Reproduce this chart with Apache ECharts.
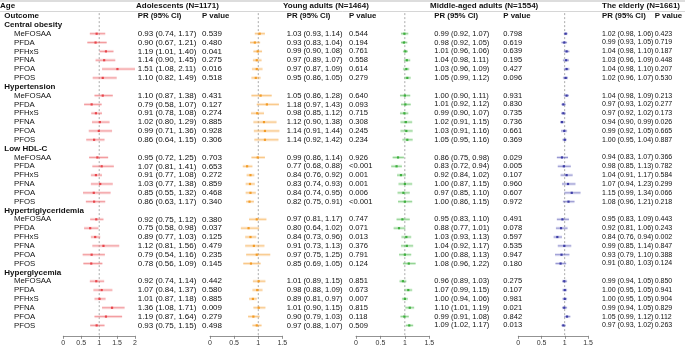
<!DOCTYPE html>
<html>
<head>
<meta charset="utf-8">
<script src="https://cdn.jsdelivr.net/npm/echarts@6/dist/echarts.min.js"></script>
<style>
  html, body { margin: 0; padding: 0; background: #fff; }
  #chart { width: 685px; height: 350px; }
</style>
</head>
<body>
<div id="chart"></div>
<script>
// categories
const outcomes = ['Central obesity', 'Hypertension', 'Low HDL-C', 'Hypertriglyceridemia', 'Hyperglycemia'];
const pfas = ['MeFOSAA', 'PFDA', 'PFHxS', 'PFNA', 'PFOA', 'PFOS'];
const panelNames = ['Adolescents (N=1171)', 'Young adults (N=1464)', 'Middle-aged adults (N=1554)', 'The elderly (N=1661)'];
const xMax = [2, 1.5, 1.5, 1.5];
const xTicks = 0.5;

// values: 5 outcomes x 6 PFAS, outcome by outcome
const adoPR = [0.93,0.90,1.19,1.14,1.51,1.10, 1.10,0.79,0.91,1.02,0.99,0.86, 0.95,1.07,0.91,1.03,0.85,0.86, 0.92,0.75,0.89,1.12,0.79,0.78, 0.92,1.07,1.01,1.36,1.19,0.93];
const adoLo = [0.74,0.67,1.01,0.90,1.08,0.82, 0.87,0.58,0.78,0.80,0.71,0.64, 0.72,0.81,0.77,0.77,0.55,0.63, 0.75,0.58,0.77,0.81,0.54,0.56, 0.74,0.84,0.87,1.08,0.87,0.75];
const adoHi = [1.17,1.21,1.40,1.45,2.11,1.49, 1.38,1.07,1.08,1.29,1.36,1.15, 1.25,1.41,1.08,1.38,1.32,1.17, 1.12,0.98,1.03,1.56,1.16,1.09, 1.14,1.37,1.18,1.71,1.64,1.15];
const adoP = ['0.539','0.480','0.041','0.275','0.016','0.518', '0.431','0.127','0.274','0.885','0.928','0.306', '0.703','0.653','0.272','0.859','0.468','0.340', '0.380','0.037','0.125','0.479','0.235','0.145', '0.442','0.580','0.885','0.009','0.279','0.498'];

const youPR = [1.03,0.93,0.99,0.97,0.97,0.95, 1.05,1.18,0.98,1.12,1.14,1.14, 0.99,0.77,0.84,0.83,0.84,0.82, 0.97,0.80,0.84,0.91,0.97,0.85, 1.01,0.98,0.89,1.01,0.90,0.97];
const youLo = [0.93,0.83,0.90,0.89,0.87,0.86, 0.86,0.97,0.85,0.90,0.91,0.92, 0.86,0.68,0.76,0.74,0.74,0.75, 0.81,0.64,0.73,0.73,0.75,0.69, 0.89,0.88,0.81,0.90,0.79,0.88];
const youHi = [1.14,1.04,1.08,1.07,1.09,1.05, 1.28,1.43,1.12,1.38,1.44,1.42, 1.14,0.88,0.92,0.93,0.95,0.91, 1.17,1.02,0.96,1.13,1.25,1.05, 1.15,1.09,0.97,1.15,1.03,1.07];
const youP = ['0.544','0.194','0.761','0.558','0.614','0.279', '0.640','0.093','0.715','0.308','0.245','0.234', '0.926','<0.001','0.001','0.001','0.006','<0.001', '0.747','0.071','0.013','0.376','0.791','0.124', '0.851','0.673','0.007','0.815','0.118','0.509'];

const midPR = [0.99,0.98,1.01,1.04,1.03,1.05, 1.00,1.01,0.99,1.02,1.03,1.05, 0.86,0.83,0.92,1.00,0.97,1.00, 0.95,0.88,1.03,1.04,1.00,1.08, 0.96,1.07,1.00,1.10,0.99,1.09];
const midLo = [0.92,0.92,0.96,0.98,0.96,0.99, 0.90,0.92,0.90,0.91,0.91,0.95, 0.75,0.72,0.84,0.87,0.85,0.86, 0.83,0.77,0.93,0.92,0.88,0.96, 0.89,0.99,0.94,1.01,0.91,1.02];
const midHi = [1.07,1.05,1.06,1.11,1.09,1.12, 1.11,1.12,1.07,1.15,1.16,1.16, 0.98,0.94,1.02,1.15,1.10,1.15, 1.10,1.01,1.13,1.17,1.13,1.22, 1.03,1.15,1.06,1.19,1.08,1.17];
const midP = ['0.798','0.619','0.639','0.195','0.427','0.096', '0.931','0.830','0.735','0.736','0.661','0.369', '0.029','0.005','0.107','0.960','0.607','0.972', '0.491','0.078','0.597','0.535','0.947','0.180', '0.275','0.107','0.981','0.021','0.842','0.013'];

const oldPR = [1.02,0.99,1.04,1.03,1.04,1.02, 1.04,0.97,0.97,0.94,0.99,1.00, 0.94,0.98,1.04,1.07,1.15,1.08, 0.95,0.92,0.84,0.99,0.93,0.91, 0.99,1.00,1.00,0.99,1.05,0.97];
const oldLo = [0.98,0.93,0.98,0.96,0.98,0.96, 0.98,0.93,0.92,0.90,0.92,0.95, 0.83,0.85,0.91,0.94,0.99,0.96, 0.83,0.81,0.76,0.85,0.79,0.80, 0.94,0.95,0.95,0.94,0.99,0.93];
const oldHi = [1.06,1.05,1.10,1.09,1.10,1.07, 1.09,1.02,1.02,0.99,1.05,1.04, 1.07,1.13,1.17,1.23,1.34,1.21, 1.09,1.06,0.94,1.14,1.10,1.03, 1.05,1.05,1.05,1.05,1.12,1.02];
const oldP = ['0.423','0.719','0.187','0.448','0.207','0.530', '0.213','0.277','0.173','0.026','0.665','0.887', '0.366','0.782','0.584','0.299','0.066','0.218', '0.443','0.243','0.002','0.847','0.388','0.124', '0.850','0.941','0.904','0.829','0.112','0.263'];

const panelData = [
  [adoPR, adoLo, adoHi, adoP],
  [youPR, youLo, youHi, youP],
  [midPR, midLo, midHi, midP],
  [oldPR, oldLo, oldHi, oldP]
];
const colors = ['#e8454b', '#f39c26', '#3daf3d', '#3c3ca6'];
const lights = ['rgba(240,120,125,0.25)', 'rgba(246,170,80,0.25)', 'rgba(100,200,100,0.25)', 'rgba(110,110,200,0.22)'];

// layout of the four panels
const gridLeft = [63.3, 210, 356, 518.3];
const gridWidth = [71.7, 72.3, 73.3, 71.7];
const textMargin = [2.7, 4.4, 5, 14];
const pOffset = [64.3, 62.3, 69, 52.7];
const textSize = [8, 7.6, 7.5, 7];
const headerX = [136, 283, 430, 602];

const rowTop = 11.6, rowH = 8.84;
const font = 'Liberation Sans, Arial, sans-serif';
const fs = 7.8;

// rows: header, then each outcome followed by its PFAS
const rows = [{ kind: 'h', text: 'Outcome' }];
outcomes.forEach(o => {
  rows.push({ kind: 'g', text: o });
  pfas.forEach(p => rows.push({ kind: 'i', text: p }));
});
const rowIds = rows.map((r, i) => 'r' + i);
const rowOf = k => 2 + Math.floor(k / 6) * 7 + (k % 6);

const f2 = v => v.toFixed(2);

const grids = [], xAxes = [], yAxes = [], series = [];
panelData.forEach((d, g) => {
  const [pr, lo, hi, pv] = d;
  grids.push({ left: gridLeft[g], width: gridWidth[g], top: rowTop, height: rowH * rows.length });
  xAxes.push({
    type: 'value', gridIndex: g, min: 0, max: xMax[g], interval: xTicks, offset: 6,
    axisLine: { show: true, lineStyle: { color: '#777', width: 0.8 } },
    axisTick: { show: true, length: 3, lineStyle: { color: '#777', width: 0.8 } },
    axisLabel: { fontSize: 7, color: '#333', fontFamily: font, margin: 4 },
    splitLine: { show: false }
  });
  const yBase = yAxes.length;
  yAxes.push({
    type: 'category', gridIndex: g, data: rowIds, inverse: true,
    axisLine: { show: false }, axisTick: { show: false }, splitLine: { show: false },
    axisLabel: g === 0 ? {
      show: true, interval: 0, align: 'left', margin: gridLeft[0] - 4.3,
      fontSize: fs, fontFamily: font, color: '#111',
      formatter: (v, i) => rows[i].kind === 'i' ? '{i|' + rows[i].text + '}' : '{b|' + rows[i].text + '}',
      rich: {
        b: { fontWeight: 'bold', fontSize: fs + 0.2, fontFamily: font, color: '#111' },
        i: { padding: [0, 0, 0, 9.7], fontSize: fs, fontFamily: font, color: '#111' }
      }
    } : { show: false }
  });
  const ts = textSize[g];
  const textAxis = (offset, textFn) => ({
    type: 'category', gridIndex: g, data: rowIds, inverse: true, position: 'right', offset: offset,
    axisLine: { show: false }, axisTick: { show: false }, splitLine: { show: false },
    axisLabel: {
      show: true, interval: 0, align: 'left', margin: textMargin[g],
      fontSize: ts, fontFamily: font, color: '#111',
      formatter: (v, i) => textFn(i),
      rich: { b: { fontWeight: 'bold', fontSize: 7.8, fontFamily: font, color: '#111' } }
    }
  });
  const valueAt = i => {
    if (rows[i].kind !== 'i') return -1;
    const grp = Math.floor((i - 1) / 7), idx = (i - 1) % 7 - 1;
    return grp * 6 + idx;
  };
  yAxes.push(textAxis(0, i => {
    if (rows[i].kind === 'h') return '{b|PR (95% CI)}';
    const k = valueAt(i);
    return k < 0 ? '' : f2(pr[k]) + ' (' + f2(lo[k]) + ', ' + f2(hi[k]) + ')';
  }));
  yAxes.push(textAxis(pOffset[g], i => {
    if (rows[i].kind === 'h') return '{b|P value}';
    const k = valueAt(i);
    return k < 0 ? '' : pv[k];
  }));

  const color = colors[g], light = lights[g];
  series.push({
    type: 'custom', xAxisIndex: g, yAxisIndex: yBase,
    data: pr.map((v, k) => [v, lo[k], hi[k], rowOf(k)]),
    encode: { x: [0, 1, 2], y: 3 },
    renderItem: (params, api) => {
      const cs = params.coordSys;
      const y = api.value(3);
      const p = api.coord([api.value(0), y]);
      const a = api.coord([api.value(1), y]);
      const b = api.coord([api.value(2), y]);
      const bx = Math.min(b[0], cs.x + cs.width);
      const children = [];
      if (params.dataIndex === 0) {
        const c = api.coord([1, 0]);
        children.push({
          type: 'line', shape: { x1: c[0], y1: cs.y + 1.5, x2: c[0], y2: cs.y + cs.height + 6 },
          style: { stroke: '#888', lineWidth: 0.7, lineDash: [2, 2] }
        });
      }
      children.push(
        { type: 'rect', shape: { x: a[0], y: p[1] - 1.5, width: bx - a[0], height: 3 }, style: { fill: light } },
        { type: 'line', shape: { x1: a[0], y1: p[1], x2: bx, y2: p[1] }, style: { stroke: color, lineWidth: 0.6, opacity: 0.75 } },
        { type: 'rect', shape: { x: p[0] - 1.1, y: p[1] - 1.1, width: 2.2, height: 2.2 }, style: { fill: color } }
      );
      return { type: 'group', children: children };
    }
  });
});

const graphics = [
  { type: 'line', shape: { x1: 0, y1: 1, x2: 685, y2: 1 }, style: { stroke: '#bbb', lineWidth: 1 } },
  { type: 'line', shape: { x1: 0, y1: 11.5, x2: 685, y2: 11.5 }, style: { stroke: '#ccc', lineWidth: 0.8 } },
  { type: 'text', left: 0, top: 2, style: { text: 'Age', font: 'bold 8px ' + font, fill: '#111' } }
];
panelNames.forEach((n, g) => {
  graphics.push({ type: 'text', left: headerX[g], top: 2, style: { text: n, font: 'bold 8px ' + font, fill: '#111' } });
});

const chart = echarts.init(document.getElementById('chart'), null, { renderer: 'canvas' });
chart.setOption({
  animation: false,
  grid: grids,
  xAxis: xAxes,
  yAxis: yAxes,
  series: series,
  graphic: graphics
});
</script>
</body>
</html>
